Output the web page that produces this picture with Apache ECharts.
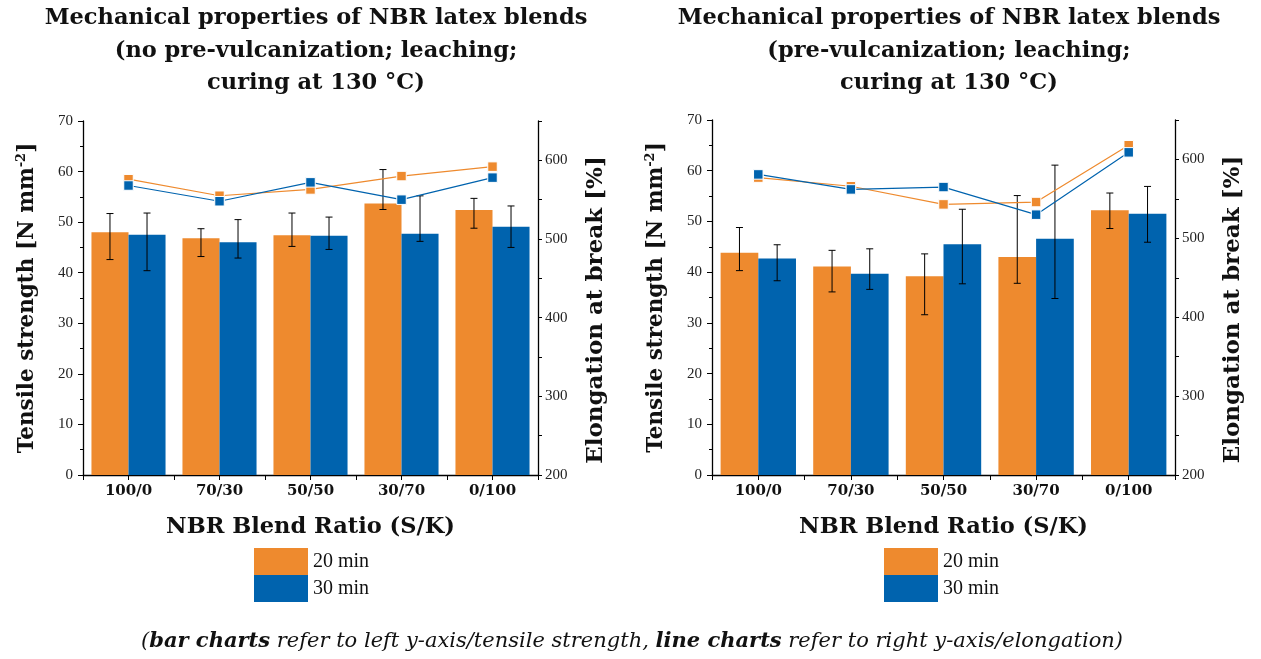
<!DOCTYPE html>
<html>
<head>
<meta charset="utf-8">
<script src="https://cdn.jsdelivr.net/npm/echarts@6/dist/echarts.min.js"></script>
<style>html,body{margin:0;padding:0;background:#fff}#c{width:1261px;height:659px}</style>
</head>
<body>
<div id="c"></div>
<script>
// ---- data ----
var categories = ['100/0', '70/30', '50/50', '30/70', '0/100'];
var seriesNames = ['20 min', '30 min'];

// Left chart: no pre-vulcanization
var L_ts20 = [48.0, 46.8, 47.4, 53.7, 52.4];
var L_ts20_lo = [42.6, 43.2, 45.2, 52.5, 48.8];
var L_ts20_hi = [51.7, 48.7, 51.8, 60.4, 54.7];
var L_ts30 = [47.5, 46.0, 47.3, 47.7, 49.1];
var L_ts30_lo = [40.4, 42.9, 44.6, 46.2, 45.0];
var L_ts30_hi = [51.8, 50.5, 51.0, 55.2, 53.2];
var L_el20 = [576, 555, 563, 580, 592];
var L_el30 = [568, 548, 572, 550, 578];

// Right chart: pre-vulcanization
var R_ts20 = [43.8, 41.1, 39.2, 43.0, 52.2];
var R_ts20_lo = [40.3, 36.1, 31.6, 37.8, 48.6];
var R_ts20_hi = [48.8, 44.3, 43.6, 55.1, 55.6];
var R_ts30 = [42.7, 39.7, 45.5, 46.6, 51.5];
var R_ts30_lo = [38.3, 36.6, 37.7, 34.8, 45.9];
var R_ts30_hi = [45.4, 44.6, 52.4, 61.1, 56.9];
var R_el20 = [577, 566, 543, 546, 618];
var R_el30 = [581, 562, 565, 530, 609];

var titles = [
  'Mechanical properties of NBR latex blends\n(no pre-vulcanization; leaching;\ncuring at 130 °C)',
  'Mechanical properties of NBR latex blends\n(pre-vulcanization; leaching;\ncuring at 130 °C)'
];

// ---- style ----
var ORANGE = '#EE8A2E';
var BLUE = '#0063AE';
var BOLD = 'DejaVu Serif';
var REG = 'Liberation Serif';
var BAR_W = 0.407;

function errData(lo, hi) {
  return lo.map(function (v, i) { return [i, v, hi[i]]; });
}
function errSeries(lo, hi, sign, gi) {
  return {
    type: 'custom', xAxisIndex: gi * 2, yAxisIndex: gi * 2, z: 5, silent: true,
    data: errData(lo, hi),
    encode: { x: 0, y: [1, 2] },
    renderItem: function (params, api) {
      var lowP = api.coord([api.value(0), api.value(1)]);
      var highP = api.coord([api.value(0), api.value(2)]);
      var band = api.size([1, 0])[0];
      var x = lowP[0] + sign * band * BAR_W / 2;
      var cap = 3.5;
      var st = { stroke: '#000', lineWidth: 1 };
      return {
        type: 'group',
        children: [
          { type: 'line', shape: { x1: x, y1: lowP[1], x2: x, y2: highP[1] }, style: st },
          { type: 'line', shape: { x1: x - cap, y1: lowP[1], x2: x + cap, y2: lowP[1] }, style: st },
          { type: 'line', shape: { x1: x - cap, y1: highP[1], x2: x + cap, y2: highP[1] }, style: st }
        ]
      };
    }
  };
}
function barSeries(name, data, color, gi) {
  return {
    name: name, type: 'bar', xAxisIndex: gi * 2, yAxisIndex: gi * 2,
    data: data, barWidth: (BAR_W * 100) + '%', barGap: '0%',
    itemStyle: { color: color }, z: 2
  };
}
function lineSeries(name, data, color, gi) {
  return {
    name: name, type: 'line', xAxisIndex: gi * 2, yAxisIndex: gi * 2 + 1,
    data: data, symbol: 'rect', symbolSize: 9.5, z: 10,
    lineStyle: { color: color, width: 1.2 },
    itemStyle: { color: color, borderColor: '#fff', borderWidth: 1 }
  };
}

var grids = [
  { left: 83, right: 723, top: 121, bottom: 184 },
  { left: 712, right: 86, top: 120, bottom: 184 }
];

var xAxes = [], yAxes = [];
grids.forEach(function (g, gi) {
  xAxes.push({
    type: 'category', gridIndex: gi, data: categories, position: 'bottom',
    name: 'NBR Blend Ratio (S/K)', nameLocation: 'middle', nameGap: 41,
    nameTextStyle: { fontFamily: BOLD, fontWeight: 'bold', fontSize: 22.5, color: '#111' },
    axisLine: { lineStyle: { color: '#000', width: 1.3 } },
    axisTick: { show: true, length: 5, alignWithLabel: false, lineStyle: { color: '#000' } },
    axisLabel: { margin: 9, fontFamily: BOLD, fontWeight: 'bold', fontSize: 15, color: '#111' },
    splitLine: { show: false }
  });
  xAxes.push({
    type: 'category', gridIndex: gi, data: categories, position: 'bottom', offset: 0,
    axisLine: { show: false },
    axisTick: { show: true, length: 5, alignWithLabel: true, lineStyle: { color: '#000' } },
    axisLabel: { show: false }, splitLine: { show: false }
  });
  yAxes.push({
    type: 'value', gridIndex: gi, position: 'left', min: 0, max: 70, interval: 10,
    name: 'Tensile strength [N mm{sup|-2}]', nameLocation: 'middle', nameGap: 43,
    nameTextStyle: {
      fontFamily: BOLD, fontWeight: 'bold', fontSize: 21.5, color: '#111',
      rich: { sup: { fontFamily: BOLD, fontWeight: 'bold', fontSize: 13, verticalAlign: 'top', padding: [0, 0, 12, 0] } }
    },
    axisLine: { show: true, lineStyle: { color: '#000', width: 1.3 } },
    axisTick: { show: true, length: 5, lineStyle: { color: '#000' } },
    minorTick: { show: true, splitNumber: 2, length: 3, lineStyle: { color: '#000' } },
    axisLabel: { margin: 10, fontFamily: REG, fontSize: 15, color: '#222' },
    splitLine: { show: false }
  });
  yAxes.push({
    type: 'value', gridIndex: gi, position: 'right', min: 200, max: 650, interval: 50,
    name: 'Elongation at break [%]', nameLocation: 'middle', nameGap: 47,
    nameTextStyle: { fontFamily: BOLD, fontWeight: 'bold', fontSize: 23, color: '#111', padding: [0, 24, 0, 0] },
    axisLine: { show: true, lineStyle: { color: '#000', width: 1.3 } },
    axisTick: { show: true, length: 4, lineStyle: { color: '#000' } },
    axisLabel: {
      margin: 7, fontFamily: REG, fontSize: 15, color: '#222',
      formatter: function (v) { return v % 100 === 0 ? String(v) : ''; }
    },
    splitLine: { show: false }
  });
});

var series = [
  barSeries(seriesNames[0], L_ts20, ORANGE, 0),
  barSeries(seriesNames[1], L_ts30, BLUE, 0),
  errSeries(L_ts20_lo, L_ts20_hi, -1, 0),
  errSeries(L_ts30_lo, L_ts30_hi, 1, 0),
  lineSeries('Elongation ' + seriesNames[0], L_el20, ORANGE, 0),
  lineSeries('Elongation ' + seriesNames[1], L_el30, BLUE, 0),
  barSeries(seriesNames[0], R_ts20, ORANGE, 1),
  barSeries(seriesNames[1], R_ts30, BLUE, 1),
  errSeries(R_ts20_lo, R_ts20_hi, -1, 1),
  errSeries(R_ts30_lo, R_ts30_hi, 1, 1),
  lineSeries('Elongation ' + seriesNames[0], R_el20, ORANGE, 1),
  lineSeries('Elongation ' + seriesNames[1], R_el30, BLUE, 1)
];

var legendBase = {
  orient: 'vertical', itemWidth: 54, itemHeight: 27, itemGap: 0, padding: 0,
  icon: 'rect', data: seriesNames, selectedMode: false,
  textStyle: { fontFamily: REG, fontSize: 20, color: '#111', padding: [0, 0, 0, 0] }
};

var option = {
  animation: false,
  backgroundColor: '#fff',
  title: [
    { text: titles[0], left: 311, top: -3, textAlign: 'center',
      textStyle: { fontFamily: BOLD, fontWeight: 'bold', fontSize: 22.5, lineHeight: 32.5, color: '#111' } },
    { text: titles[1], left: 944, top: -3, textAlign: 'center',
      textStyle: { fontFamily: BOLD, fontWeight: 'bold', fontSize: 22.5, lineHeight: 32.5, color: '#111' } }
  ],
  grid: grids,
  xAxis: xAxes,
  yAxis: yAxes,
  legend: [
    Object.assign({}, legendBase, { left: 254, top: 548 }),
    Object.assign({}, legendBase, { left: 884, top: 548 })
  ],
  graphic: [{
    type: 'text', x: 632, y: 642,
    style: {
      text: '{n|(}{b|bar charts}{n| refer to left y-axis/tensile strength, }{b|line charts}{n| refer to right y-axis/elongation)}',
      textAlign: 'center', textVerticalAlign: 'middle',
      fontFamily: BOLD, fontStyle: 'italic', fontSize: 21, fill: '#111',
      rich: {
        n: { fontFamily: BOLD, fontStyle: 'italic', fontWeight: 'normal', fontSize: 21, color: '#111' },
        b: { fontFamily: BOLD, fontStyle: 'italic', fontWeight: 'bold', fontSize: 21, color: '#111' }
      }
    }
  }],
  series: series
};

var chart = echarts.init(document.getElementById('c'), null, { renderer: 'canvas' });
chart.setOption(option);
</script>
</body>
</html>
